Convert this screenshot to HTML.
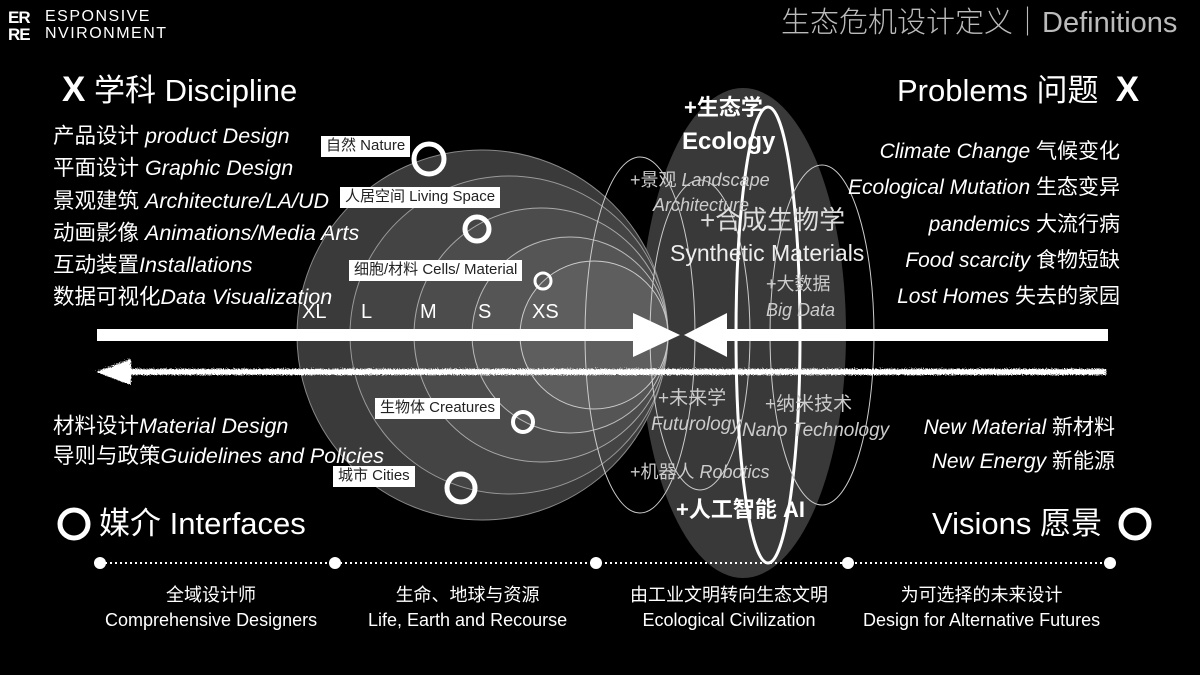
<!DOCTYPE html>
<html><head><meta charset="utf-8"><style>
body{margin:0;background:#000;}
#c{position:relative;width:1200px;height:675px;overflow:hidden;background:#000;color:#fff;font-family:"Liberation Sans","Noto Sans CJK SC",sans-serif;}
.t{position:absolute;white-space:nowrap;line-height:1;}
.i{font-style:italic;}
.lab{position:absolute;background:#fff;color:#222;font-size:15px;padding:2px 5px;line-height:1.1;white-space:nowrap;}
</style></head><body><div id="c">
<svg width="1200" height="675" style="position:absolute;left:0;top:0">
<defs><filter id="n"><feTurbulence baseFrequency="0.9" numOctaves="2" seed="3"/><feDisplacementMap in="SourceGraphic" scale="4"/></filter></defs>
<ellipse cx="743" cy="333" rx="103" ry="245" fill="#393939"/>
<circle cx="482" cy="335" r="185" fill="#3a3a3a" stroke="#888" stroke-width="1"/>
<circle cx="509" cy="335" r="159" fill="#444" stroke="#999" stroke-width="1"/>
<circle cx="541" cy="335" r="127" fill="#4c4c4c" stroke="#aaa" stroke-width="1"/>
<circle cx="570" cy="335" r="98" fill="#555" stroke="#bbb" stroke-width="1"/>
<circle cx="594" cy="335" r="74" fill="#5e5e5e" stroke="#ccc" stroke-width="1"/>
<ellipse cx="640" cy="335" rx="55" ry="178" fill="none" stroke="#ccc" stroke-width="1"/>
<ellipse cx="700" cy="335" rx="50" ry="155" fill="none" stroke="#ccc" stroke-width="1"/>
<ellipse cx="768" cy="335" rx="32" ry="228" fill="none" stroke="#fff" stroke-width="3"/>
<ellipse cx="822" cy="335" rx="52" ry="170" fill="none" stroke="#ccc" stroke-width="1"/>
<rect x="97" y="329" width="540" height="12" fill="#fff"/>
<polygon points="633,313 680,335 633,357" fill="#fff"/>
<rect x="725" y="329" width="383" height="12" fill="#fff"/>
<polygon points="727,313 684,335 727,357" fill="#fff"/>
<g filter="url(#n)"><rect x="110" y="368" width="995" height="6" fill="#fff"/>
<polygon points="95,371 130,358 130,384" fill="#fff"/></g>
<g fill="none" stroke="#fff">
<circle cx="429" cy="159" r="15" stroke-width="5"/>
<circle cx="477" cy="229" r="12" stroke-width="5"/>
<circle cx="543" cy="281" r="8" stroke-width="3"/>
<circle cx="523" cy="422" r="10" stroke-width="4"/>
<circle cx="461" cy="488" r="14" stroke-width="5"/>
<circle cx="74" cy="524" r="14" stroke-width="5"/>
<circle cx="1135" cy="524" r="14" stroke-width="5"/>
</g>
<line x1="100" y1="563" x2="1110" y2="563" stroke="#fff" stroke-width="2" stroke-dasharray="2 3"/>
<g fill="#fff"><circle cx="100" cy="563" r="6"/><circle cx="335" cy="563" r="6"/><circle cx="596" cy="563" r="6"/><circle cx="848" cy="563" r="6"/><circle cx="1110" cy="563" r="6"/></g>
</svg>
<div class="t" style="left:8px;top:9px;font-size:17px;font-weight:bold;letter-spacing:-1px">ER<br>RE</div>
<div class="t" style="left:45px;top:8px;font-size:16px;letter-spacing:1.5px;line-height:17px">ESPONSIVE<br>NVIRONMENT</div>
<div class="t" style="left:781px;top:9px;font-size:29px;color:#bbb;font-weight:300">生态危机设计定义｜Definitions</div>
<div class="t" style="left:62px;top:72px;font-size:31px"><b style="font-size:35px">X</b> 学科 Discipline</div>
<div class="t" style="left:897px;top:72px;font-size:31px">Problems 问题 &nbsp;<b style="font-size:35px">X</b></div>
<div class="t" style="left:53px;top:120px;font-size:21.5px;line-height:32.3px">产品设计 <i>product Design</i><br>平面设计 <i>Graphic Design</i><br>景观建筑 <i>Architecture/LA/UD</i><br>动画影像 <i>Animations/Media Arts</i><br>互动装置<i>Installations</i><br>数据可视化<i>Data Visualization</i></div>
<div class="t" style="right:80px;top:134px;font-size:21px;line-height:36.3px;text-align:right"><i>Climate Change</i> 气候变化<br><i>Ecological Mutation</i> 生态变异<br><i>pandemics</i> 大流行病<br><i>Food scarcity</i> 食物短缺<br><i>Lost Homes</i> 失去的家园</div>
<div class="t" style="left:53px;top:411px;font-size:21.5px;line-height:30px">材料设计<i>Material Design</i><br>导则与政策<i>Guidelines and Policies</i></div>
<div class="t" style="right:85px;top:411px;font-size:21px;line-height:34px;text-align:right"><i>New Material</i> 新材料<br><i>New Energy</i> 新能源</div>
<div class="t" style="left:302px;top:302px;font-size:20px">XL</div>
<div class="t" style="left:361px;top:302px;font-size:20px">L</div>
<div class="t" style="left:420px;top:302px;font-size:20px">M</div>
<div class="t" style="left:478px;top:302px;font-size:20px">S</div>
<div class="t" style="left:532px;top:302px;font-size:20px">XS</div>
<div class="lab" style="left:321px;top:136px">自然 Nature</div>
<div class="lab" style="left:340px;top:187px">人居空间 Living Space</div>
<div class="lab" style="left:349px;top:260px">细胞/材料 Cells/ Material</div>
<div class="lab" style="left:375px;top:398px">生物体 Creatures</div>
<div class="lab" style="left:333px;top:466px">城市 Cities</div>
<div class="t" style="left:684px;top:97px;font-size:22px;font-weight:bold">+生态学</div>
<div class="t" style="left:682px;top:130px;font-size:24px;font-weight:bold">Ecology</div>
<div class="t" style="left:630px;top:171px;font-size:18px;color:#ccc">+景观 <i>Landscape</i></div>
<div class="t i" style="left:653px;top:196px;font-size:18px;color:#ccc">Architecture</div>
<div class="t" style="left:700px;top:207px;font-size:26px;color:#ddd">+合成生物学</div>
<div class="t" style="left:670px;top:242px;font-size:23px;color:#eee">Synthetic Materials</div>
<div class="t" style="left:766px;top:275px;font-size:18px;color:#ccc">+大数据</div>
<div class="t i" style="left:766px;top:301px;font-size:18px;color:#ccc">Big Data</div>
<div class="t" style="left:658px;top:389px;font-size:19px;color:#ccc">+未来学</div>
<div class="t i" style="left:651px;top:415px;font-size:19px;color:#ccc">Futurology</div>
<div class="t" style="left:765px;top:395px;font-size:19px;color:#ccc">+纳米技术</div>
<div class="t i" style="left:742px;top:421px;font-size:19px;color:#ccc">Nano Technology</div>
<div class="t" style="left:630px;top:463px;font-size:18px;color:#ccc">+机器人 <i>Robotics</i></div>
<div class="t" style="left:676px;top:499px;font-size:22px;font-weight:bold">+人工智能 AI</div>
<div class="t" style="left:99px;top:508px;font-size:31px">媒介 Interfaces</div>
<div class="t" style="left:932px;top:508px;font-size:31px">Visions 愿景</div>
<div class="t" style="left:105px;top:583px;font-size:18px;line-height:25px;text-align:center">全域设计师<br>Comprehensive Designers</div>
<div class="t" style="left:368px;top:583px;font-size:18px;line-height:25px;text-align:center">生命、地球与资源<br>Life, Earth and Recourse</div>
<div class="t" style="left:630px;top:583px;font-size:18px;line-height:25px;text-align:center">由工业文明转向生态文明<br>Ecological Civilization</div>
<div class="t" style="left:863px;top:583px;font-size:18px;line-height:25px;text-align:center">为可选择的未来设计<br>Design for Alternative Futures</div>
</div></body></html>
